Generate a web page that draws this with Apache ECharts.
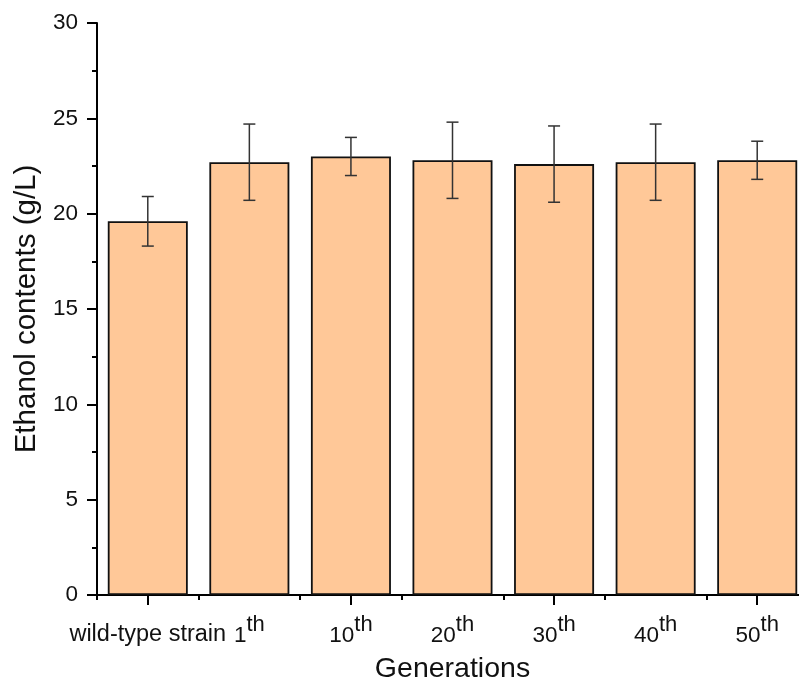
<!DOCTYPE html>
<html>
<head>
<meta charset="utf-8">
<script src="https://cdn.jsdelivr.net/npm/echarts@6/dist/echarts.min.js"></script>
<style>html,body{margin:0;padding:0;background:#fff;}#c{width:799px;height:684px;}</style>
</head>
<body>
<div id="c"></div>
<script>
const categories = ['wild-type strain', '1', '10', '20', '30', '40', '50'];
const superscripts = ['', 'th', 'th', 'th', 'th', 'th', 'th'];
const means = [19.6, 22.7, 23.0, 22.8, 22.6, 22.7, 22.8];
const errLow = [18.3, 20.7, 22.0, 20.8, 20.6, 20.7, 21.8];
const errHigh = [20.9, 24.7, 24.0, 24.8, 24.6, 24.7, 23.8];
const yTicks = [0, 5, 10, 15, 20, 25, 30];

const chart = echarts.init(document.getElementById('c'), null, {renderer: 'canvas'});
const errData = categories.map((c, i) => [i, errLow[i], errHigh[i]]);
const FONT = 'Liberation Sans, Arial, sans-serif';

chart.setOption({
  animation: false,
  backgroundColor: '#fff',
  grid: {left: 97, top: 23, width: 711, height: 572, containLabel: false, outerBoundsMode: 'none'},
  xAxis: [{
    type: 'category',
    data: categories,
    position: 'bottom',
    name: 'Generations',
    nameLocation: 'middle',
    nameGap: 60,
    nameTextStyle: {fontSize: 28.5, color: '#111', fontFamily: FONT},
    axisLine: {lineStyle: {color: '#000', width: 2}},
    axisTick: {show: true, alignWithLabel: false, length: 5, lineStyle: {color: '#000', width: 2}},
    axisLabel: {
      interval: 0, margin: 19, fontFamily: FONT,
      formatter: function (v, i) {
        const s = superscripts[i];
        return s ? '{h| }{a|' + v + '}{s|' + s + '}' : '{h| }{w|' + v + '}';
      },
      rich: {
        h: {fontSize: 1, lineHeight: 33, width: 0},
        a: {fontSize: 22.5, color: '#111', fontFamily: FONT, lineHeight: 23, verticalAlign: 'bottom'},
        w: {fontSize: 23.5, color: '#111', fontFamily: FONT, lineHeight: 24, verticalAlign: 'bottom'},
        s: {fontSize: 22, color: '#111', fontFamily: FONT, lineHeight: 22, verticalAlign: 'top'}
      }
    },
    splitLine: {show: false}
  }, {
    type: 'category',
    data: categories,
    position: 'bottom',
    axisLine: {show: false},
    axisTick: {show: true, alignWithLabel: true, length: 10, lineStyle: {color: '#000', width: 2}},
    axisLabel: {show: false},
    splitLine: {show: false}
  }],
  yAxis: {
    type: 'value',
    min: 0, max: 30, interval: 5,
    name: 'Ethanol contents (g/L)',
    nameLocation: 'middle',
    nameGap: 53,
    nameTextStyle: {fontSize: 29.5, color: '#111', fontFamily: FONT},
    axisLine: {show: true, lineStyle: {color: '#000', width: 2}},
    axisTick: {show: true, length: 10, lineStyle: {color: '#000', width: 2}},
    minorTick: {show: true, splitNumber: 2, length: 5, lineStyle: {color: '#000', width: 2}},
    axisLabel: {fontSize: 22.5, color: '#111', margin: 19, fontFamily: FONT,
      formatter: v => yTicks.includes(v) ? String(v) : ''},
    splitLine: {show: false}
  },
  series: [{
    type: 'bar',
    data: means,
    barWidth: 80,
    itemStyle: {color: '#FFC898', borderColor: '#111', borderWidth: 1.8}
  }, {
    type: 'custom',
    data: errData,
    z: 10,
    renderItem: function (params, api) {
      const x = api.value(0);
      const lo = api.coord([x, api.value(1)]);
      const hi = api.coord([x, api.value(2)]);
      const hw = 6;
      const style = {stroke: '#333', lineWidth: 1.5};
      return {
        type: 'group',
        children: [
          {type: 'line', shape: {x1: hi[0], y1: hi[1], x2: lo[0], y2: lo[1]}, style: style},
          {type: 'line', shape: {x1: hi[0] - hw, y1: hi[1], x2: hi[0] + hw, y2: hi[1]}, style: style},
          {type: 'line', shape: {x1: lo[0] - hw, y1: lo[1], x2: lo[0] + hw, y2: lo[1]}, style: style}
        ]
      };
    }
  }]
});
</script>
</body>
</html>
